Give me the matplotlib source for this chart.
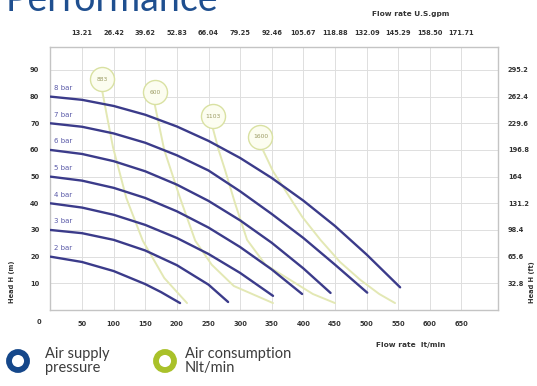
import matplotlib
matplotlib.use("Agg")
import matplotlib.pyplot as plt
from matplotlib.patches import Circle

# pressure curves: flow (l/min) vs head (m)
pressure_labels = ["8 bar", "7 bar", "6 bar", "5 bar", "4 bar", "3 bar", "2 bar"]
flow_8 = [0, 50, 100, 150, 200, 250, 300, 350, 400, 450, 500, 553]
head_8 = [80, 78.8, 76.5, 73.2, 68.8, 63.4, 57, 49.5, 41, 31.5, 20.8, 8.5]
flow_7 = [0, 50, 100, 150, 200, 250, 300, 350, 400, 450, 501]
head_7 = [70, 68.7, 66.2, 62.7, 58, 52.3, 44.5, 36, 27, 17, 6.5]
flow_6 = [0, 50, 100, 150, 200, 250, 300, 350, 400, 443]
head_6 = [60, 58.5, 55.8, 52, 47, 40.9, 33.6, 25.2, 15.6, 6.4]
flow_5 = [0, 50, 100, 150, 200, 250, 300, 350, 398]
head_5 = [50, 48.5, 45.8, 42, 37, 30.9, 23.6, 15.2, 6]
flow_4 = [0, 50, 100, 150, 200, 250, 300, 352]
head_4 = [40, 38.4, 35.7, 31.9, 27, 21, 13.9, 5.3]
flow_3 = [0, 50, 100, 150, 200, 250, 281]
head_3 = [30, 28.8, 26.3, 22.3, 16.8, 9.5, 3]
flow_2 = [0, 50, 100, 150, 175, 205]
head_2 = [20, 18, 14.6, 9.7, 6.7, 2.6]

# air consumption curves (Nlt/min)
air_labels = ["883", "600", "1103", "1600"]
air_flow_883 = [82, 90, 99, 120, 146, 180, 216]
air_head_883 = [82, 72, 61, 42, 26, 12, 2.6]
air_flow_600 = [165, 180, 205, 229, 255, 290, 352]
air_head_600 = [77, 60, 42, 26, 17, 9, 2.6]
air_flow_1103 = [257, 266, 276, 292, 311, 340, 379, 415, 450]
air_head_1103 = [68, 60, 52.6, 40, 26.3, 17, 11.3, 6, 2.6]
air_flow_1600 = [335, 352, 371, 398, 427, 458, 490, 520, 545]
air_head_1600 = [60.5, 52, 45, 35, 26.3, 18, 11.3, 6, 2.6]
bubble_x = [82, 165, 257, 332]
bubble_y = [86.5, 81.6, 72.6, 65]

x_ticks = [50, 100, 150, 200, 250, 300, 350, 400, 450, 500, 550, 600, 650]
gpm_labels = ["13.21", "26.42", "39.62", "52.83", "66.04", "79.25", "92.46",
              "105.67", "118.88", "132.09", "145.29", "158.50", "171.71"]
y_ticks = [10, 20, 30, 40, 50, 60, 70, 80, 90]
ft_labels = ["32.8", "65.6", "98.4", "131.2", "164", "196.8", "229.6", "262.4", "295.2"]

navy = "#3b3b8a"
pale = "#e3e8b4"
tick_font = dict(fontsize=4.8, fontweight="bold", color="#333333")

fig = plt.figure(figsize=(5.37, 3.86), dpi=100)
ax = fig.add_axes([0.0939, 0.1969, 0.8337, 0.6813])
ax.set_xlim(0, 708)
ax.set_ylim(0, 98.6)

ax.set_xticks(x_ticks)
ax.set_xticklabels([str(v) for v in x_ticks], **tick_font)
ax.set_yticks(y_ticks)
ax.set_yticklabels([str(v) for v in y_ticks], **tick_font)
ax.tick_params(axis="both", length=0, pad=8)
ax.grid(True, color="#dedede", linewidth=0.7)
for s in ax.spines.values():
    s.set_color("#c4c4c4")
    s.set_linewidth(1.0)
ax.text(-18, -4.5, "0", ha="center", va="center", **tick_font)

top = ax.secondary_xaxis("top")
top.set_xticks(x_ticks)
top.set_xticklabels(gpm_labels, **tick_font)
top.tick_params(length=0, pad=8)
top.spines["top"].set_visible(False)

right = ax.twinx()
right.set_ylim(ax.get_ylim())
right.set_yticks(y_ticks)
right.set_yticklabels(ft_labels, **tick_font)
right.tick_params(length=0, pad=7)
for s in right.spines.values():
    s.set_visible(False)

# air consumption lines and bubbles
air_flows = [air_flow_883, air_flow_600, air_flow_1103, air_flow_1600]
air_heads = [air_head_883, air_head_600, air_head_1103, air_head_1600]
for fx, hy in zip(air_flows, air_heads):
    ax.plot(fx, hy, color=pale, linewidth=1.4, zorder=2, solid_capstyle="round",
            solid_joinstyle="round")
ax.scatter(bubble_x, bubble_y, s=300, facecolor="#fcfdf0", edgecolor="#d9e1a2",
           linewidth=1.0, zorder=3)
for bx, by, lab in zip(bubble_x, bubble_y, air_labels):
    ax.text(bx, by, lab, ha="center", va="center", fontsize=4.3,
            color="#9a9a62", zorder=4)

# pressure lines
flows = [flow_8, flow_7, flow_6, flow_5, flow_4, flow_3, flow_2]
heads = [head_8, head_7, head_6, head_5, head_4, head_3, head_2]
for fx, hy, lab in zip(flows, heads, pressure_labels):
    ax.plot(fx, hy, color=navy, linewidth=1.7, zorder=5, solid_capstyle="round",
            solid_joinstyle="round")
    ax.text(5, hy[0] + 3.2, lab, fontsize=5, color="#5a5aa8", va="center", zorder=6)

fig.text(0.022, 0.27, "Head H (m)", rotation=90, ha="center", va="center", **tick_font)
fig.text(0.99, 0.27, "Head H (ft)", rotation=90, ha="center", va="center", **tick_font)
fig.text(0.765, 0.963, "Flow rate U.S.gpm", ha="center", va="center", fontsize=5.3,
         fontweight="bold", color="#333333")
fig.text(0.765, 0.105, "Flow rate  lt/min", ha="center", va="center", fontsize=5.3,
         fontweight="bold", color="#333333")

# title, cut off at the top edge
fig.text(0.01, 1 - 11 / 386, "Performance", ha="left", va="baseline", fontsize=27,
         family="Lato", color="#1f4f8f")

# legend rings (display coords, from bottom-left)
fig.patches.append(Circle((18, 25), 9, transform=None, facecolor="none",
                          edgecolor="#15478a", linewidth=4.2))
fig.patches.append(Circle((165, 25), 9, transform=None, facecolor="none",
                          edgecolor="#a9c12a", linewidth=4.2))
fig.text(45 / 537, 1 - 361 / 386, "Air supply\npressure", ha="left", va="center",
         fontsize=10.5, color="#3c3c3c", linespacing=0.95, family="Lato")
fig.text(185 / 537, 1 - 361 / 386, "Air consumption\nNlt/min", ha="left", va="center",
         fontsize=10.5, color="#3c3c3c", linespacing=0.95, family="Lato")

fig.savefig("out.png", dpi=100)
